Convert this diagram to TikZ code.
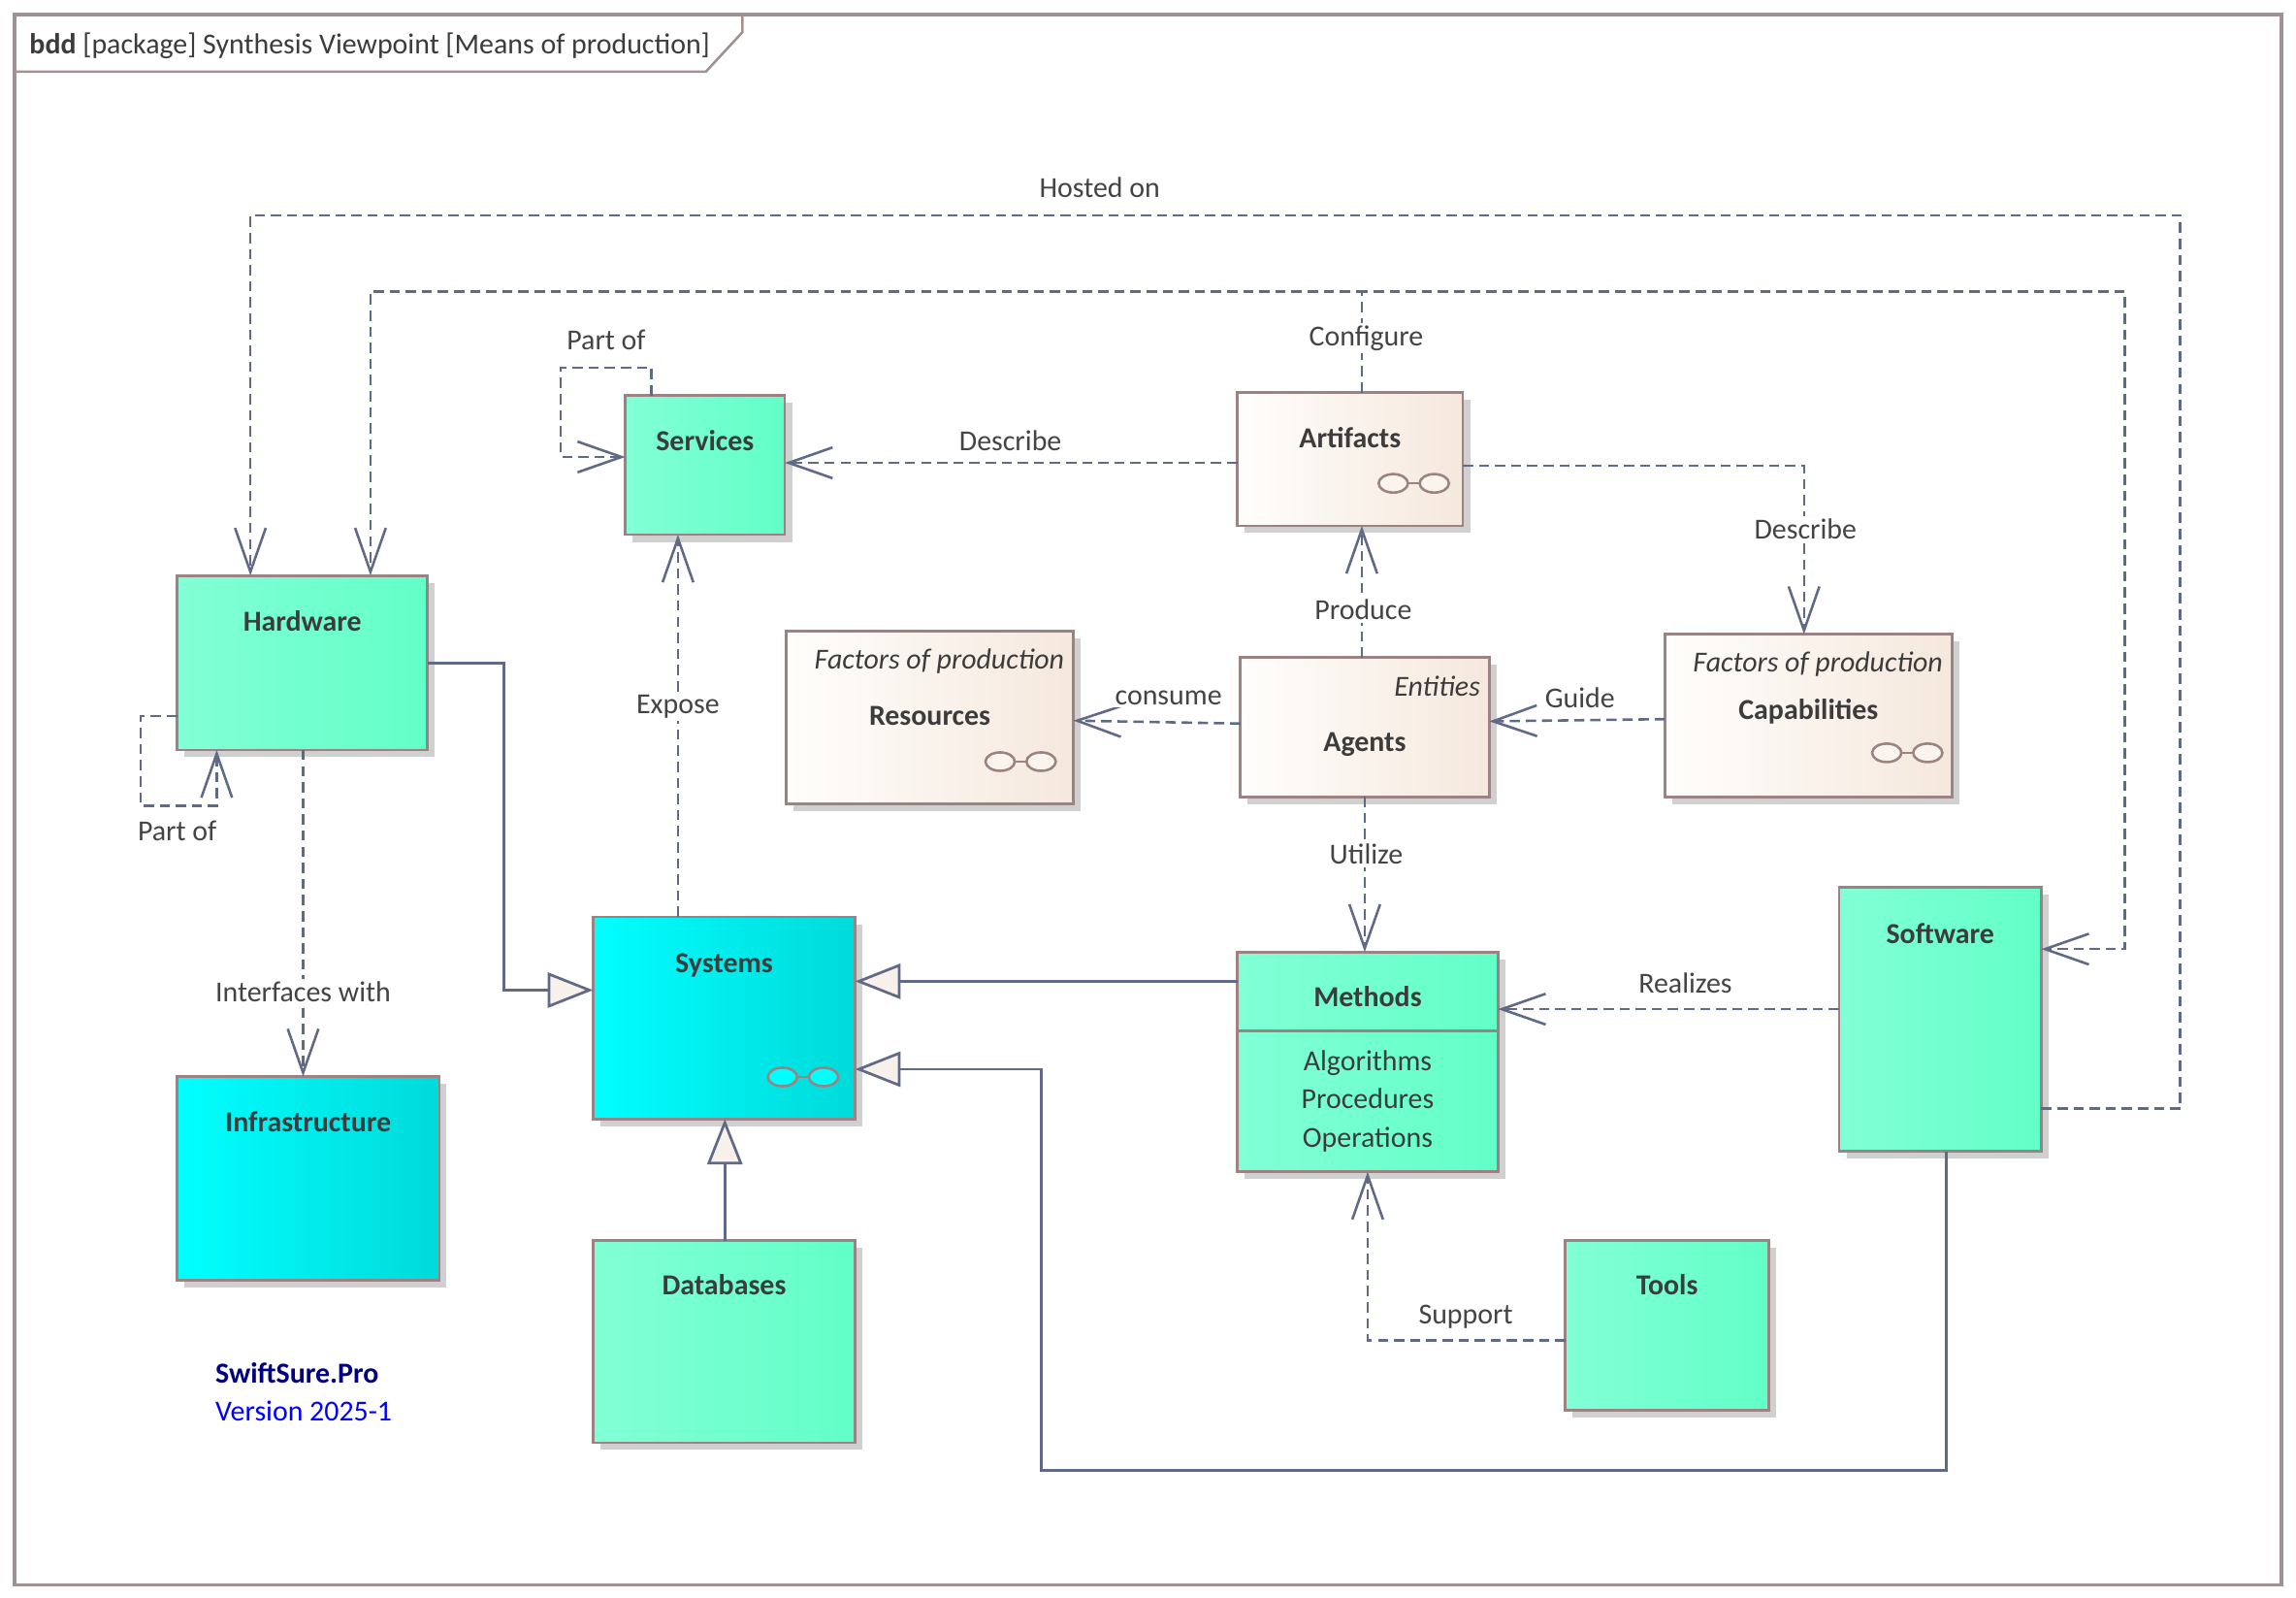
\documentclass[tikz,border=0pt]{standalone}
\usepackage{fontspec}
\setmainfont{Carlito}
\usetikzlibrary{arrows.meta,shadows}
\definecolor{conn}{RGB}{96,106,134}
\definecolor{bord}{RGB}{155,131,131}
\definecolor{txt}{RGB}{60,60,60}
\definecolor{lblc}{RGB}{68,68,68}
\definecolor{gLeft}{RGB}{130,255,214}
\definecolor{gRight}{RGB}{98,255,200}
\definecolor{cLeft}{RGB}{0,255,255}
\definecolor{cRight}{RGB}{0,218,218}
\definecolor{bLeft}{RGB}{255,254,252}
\definecolor{bRight}{RGB}{245,232,221}
\definecolor{shd}{RGB}{208,208,208}
\definecolor{trif}{RGB}{248,240,235}
\definecolor{frm}{RGB}{160,146,146}
\definecolor{logonavy}{RGB}{0,0,128}
\definecolor{logoblue}{RGB}{0,0,255}
\newcommand\dfont{\fontsize{19.8}{24}\selectfont}
\tikzset{
  OpenV/.tip={Straight Barb[length=30pt,width=21pt]},
  GenTri/.tip={Triangle[length=31pt,width=24pt,fill=trif]},
  blk/.style={draw=bord,line width=1.8pt,anchor=north west,inner sep=0pt,outer sep=0pt,
    drop shadow={shadow xshift=5pt,shadow yshift=-5pt,fill=shd,opacity=1}},
  greenbox/.style={blk,left color=gLeft,right color=gRight},
  cyanbox/.style={blk,left color=cLeft,right color=cRight},
  beigebox/.style={blk,left color=bLeft,right color=bRight},
  nm/.style={font=\dfont\bfseries,text=txt,anchor=base,inner sep=0pt},
  attr/.style={font=\dfont,text=txt,anchor=base,inner sep=0pt},
  stereo/.style={font=\dfont\itshape,text=txt,anchor=base east,inner sep=0pt},
  lbl/.style={font=\dfont,text=lblc,anchor=base,fill=white,inner sep=2pt},
  dep/.style={draw=conn,line width=1.7pt,dash pattern=on 7pt off 4pt,-{OpenV}},
  gen/.style={draw=conn,line width=1.8pt,-{GenTri}},
  glassesB/.pic={
    \draw[bord,line width=1.7pt] (-5,0) -- (5,0);
    \draw[bord,line width=1.7pt,fill=white!50!bRight] (-14,0) ellipse [x radius=10pt,y radius=6.3pt];
    \draw[bord,line width=1.7pt,fill=white!50!bRight] (14,0) ellipse [x radius=10pt,y radius=6.3pt];
  },
  glassesC/.pic={
    \draw[bord,line width=1.7pt] (-5,0) -- (5,0);
    \draw[bord,line width=1.7pt,fill=cLeft] (-14,0) ellipse [x radius=10pt,y radius=6.3pt];
    \draw[bord,line width=1.7pt,fill=cLeft] (14,0) ellipse [x radius=10pt,y radius=6.3pt];
  }
}
\begin{document}
\begin{tikzpicture}[x=1pt,y=-1pt]
\useasboundingbox (0,0) rectangle (1568,1091);
\fill[white] (0,0) rectangle (1568,1091);
% frame
\draw[frm,line width=2.2pt] (10,10) rectangle (1558,1082);
\draw[frm,line width=1.7pt] (10,49) -- (482,49) -- (507,22) -- (507,10);
\node[font=\dfont,text=txt,anchor=base west,inner sep=0pt] (ttl) at (20,36.5)
  {\textbf{bdd} [package] Synthesis Viewpoint [Means of production]};

% blocks
\node[greenbox,minimum width=109pt,minimum height=95pt] (sv) at (427,270) {};
\node[beigebox,minimum width=154pt,minimum height=91pt] (ar) at (845,268) {};
\node[greenbox,minimum width=171pt,minimum height=119pt] (hw) at (121,393) {};
\node[beigebox,minimum width=196pt,minimum height=118pt] (rs) at (537,431) {};
\node[beigebox,minimum width=170pt,minimum height=95pt] (ag) at (847,449) {};
\node[beigebox,minimum width=196pt,minimum height=111pt] (cp) at (1137,433) {};
\node[cyanbox,minimum width=179pt,minimum height=138pt] (sy) at (405,626) {};
\node[greenbox,minimum width=178pt,minimum height=150pt] (me) at (845,650) {};
\node[greenbox,minimum width=138pt,minimum height=180pt] (sw) at (1256,606) {};
\node[cyanbox,minimum width=179pt,minimum height=139pt] (in) at (121,735) {};
\node[greenbox,minimum width=179pt,minimum height=138pt] (db) at (405,847) {};
\node[greenbox,minimum width=139pt,minimum height=116pt] (tl) at (1069,847) {};

% block texts
\node[nm] (svT) at ([yshift=-38pt]sv.north) {Services};
\node[nm] (arT) at ([yshift=-38pt]ar.north) {Artifacts};
\node[nm] (hwT) at ([yshift=-38pt]hw.north) {Hardware};
\node[stereo] (rsS) at ([xshift=-6pt,yshift=-26pt]rs.north east) {Factors of production};
\node[nm] (rsT) at ([yshift=-64pt]rs.north) {Resources};
\node[stereo] (agS) at ([xshift=-6pt,yshift=-26pt]ag.north east) {Entities};
\node[nm] (agT) at ([yshift=-64pt]ag.north) {Agents};
\node[stereo] (cpS) at ([xshift=-6pt,yshift=-26pt]cp.north east) {Factors of production};
\node[nm] (cpT) at ([yshift=-58pt]cp.north) {Capabilities};
\node[nm] (syT) at ([yshift=-38pt]sy.north) {Systems};
\node[nm] (meT) at ([yshift=-37pt]me.north) {Methods};
\draw[bord,line width=1.8pt] ([yshift=-54pt]me.north west) -- ([yshift=-54pt]me.north east);
\node[attr] (meA1) at ([yshift=-81pt]me.north) {Algorithms};
\node[attr] (meA2) at ([yshift=-107pt]me.north) {Procedures};
\node[attr] (meA3) at ([yshift=-133pt]me.north) {Operations};
\node[nm] (swT) at ([yshift=-38pt]sw.north) {Software};
\node[nm] (inT) at ([yshift=-38pt]in.north) {Infrastructure};
\node[nm] (dbT) at ([yshift=-37pt]db.north) {Databases};
\node[nm] (tlT) at ([yshift=-37pt]tl.north) {Tools};

% glasses icons
\pic at (965.5,330) {glassesB};
\pic at (1302.5,514) {glassesB};
\pic at (697,520) {glassesB};
\pic at (548.4,735.3) {glassesC};

% dependencies
\coordinate (hostC) at (1489,147);
\draw[dep] ([yshift=-151pt]sw.north east) -| (hostC) -| ([xshift=50pt]hw.north west);
\coordinate (cfgL) at (253,199);
\coordinate (cfgR) at (1451,199);
\draw[dep] ([xshift=85pt]ar.north west) |- (cfgL) -- ([xshift=132pt]hw.north west);
\draw[dep] ([xshift=85pt]ar.north west) |- (cfgR) |- ([yshift=-42pt]sw.north east);
\draw[dep] ([yshift=-48pt]ar.north west) -- ([yshift=-48pt]ar.north west -| sv.east);
\draw[dep] ([yshift=-50pt]ar.north east) -| ([xshift=95pt]cp.north west);
\coordinate (pofS) at (383,251);
\draw[dep] ([xshift=18pt]sv.north west) |- (pofS) |- ([yshift=-42pt]sv.north west);
\draw[dep] ([xshift=58pt]sy.north west) -- ([xshift=58pt]sy.north west |- sv.south);
\draw[dep] ([xshift=83pt]ag.north west) -- ([xshift=83pt]ag.north west |- ar.south);
\draw[dep] ([yshift=-45pt]ag.north west) -- ([yshift=-61pt]rs.north east);
\draw[dep] ([yshift=-58pt]cp.north west) -- ([yshift=-43.5pt]ag.north east);
\draw[dep] ([xshift=85pt]ag.south west) -- ([xshift=85pt]ag.south west |- me.north);
\draw[dep] ([yshift=-83pt]sw.north west) -- ([yshift=-83pt]sw.north west -| me.east);
\draw[dep] ([yshift=-68pt]tl.north west) -| ([xshift=89pt]me.south west);
\coordinate (pofH) at (96,550);
\draw[dep] ([yshift=-96pt]hw.north west) -| (pofH) -| ([xshift=27pt]hw.south west);
\draw[dep] ([xshift=86pt]hw.south west) -- ([xshift=86pt]hw.south west |- in.north);

% generalizations
\coordinate (genH) at (344,676);
\draw[gen] ([yshift=-60pt]hw.north east) -| (genH) -- ([yshift=-50pt]sy.north west);
\draw[gen] ([yshift=-20pt]me.north west) -- ([yshift=-20pt]me.north west -| sy.east);
\coordinate (genS) at (711,1004);
\draw[gen] ([xshift=73pt]sw.south west) |- (genS) |- ([yshift=-104pt]sy.north east);
\draw[gen] ([xshift=90pt]db.north west) -- ([xshift=90pt]db.north west |- sy.south);

% connector labels
\node[lbl] (l1) at (751,135) {Hosted on};
\node[lbl] (l2) at (933,236) {Configure};
\node[lbl] (l3) at (414,239) {Part of};
\node[lbl] (l4) at (690,308) {Describe};
\node[lbl] (l5) at (1233,368) {Describe};
\node[lbl] (l6) at (931,423) {Produce};
\node[lbl] (l7) at (463,487) {Expose};
\node[lbl] (l8) at (798,481) {consume};
\node[lbl] (l9) at (1079,483) {Guide};
\node[lbl] (l10) at (933,590) {Utilize};
\node[lbl] (l11) at (207,684) {Interfaces with};
\node[lbl] (l12) at (1151,678) {Realizes};
\node[lbl] (l13) at (1001,904) {Support};
\node[lbl] (l14) at (121,574) {Part of};

% logo
\node[font=\dfont\bfseries,text=logonavy,anchor=base west,inner sep=0pt] (logo1) at (147,944) {SwiftSure.Pro};
\node[font=\dfont,text=logoblue,anchor=base west,inner sep=0pt] (logo2) at (147,970) {Version 2025-1};
\end{tikzpicture}
\end{document}
